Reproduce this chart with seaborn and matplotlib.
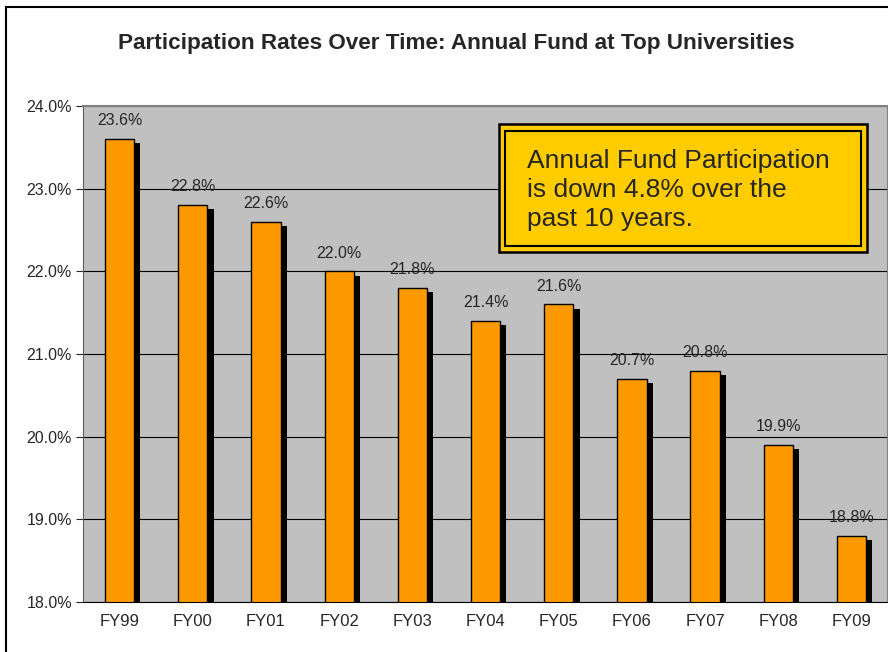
import pandas as pd
import seaborn as sns
import matplotlib.pyplot as plt
import matplotlib.patheffects as pe
from matplotlib.patches import Rectangle
from matplotlib.ticker import MultipleLocator, PercentFormatter

years = ['FY99', 'FY00', 'FY01', 'FY02', 'FY03', 'FY04', 'FY05', 'FY06', 'FY07', 'FY08', 'FY09']
rates = [23.6, 22.8, 22.6, 22.0, 21.8, 21.4, 21.6, 20.7, 20.8, 19.9, 18.8]
labels = ['23.6%', '22.8%', '22.6%', '22.0%', '21.8%', '21.4%', '21.6%', '20.7%', '20.8%', '19.9%', '18.8%']

df = pd.DataFrame({'Year': years, 'Rate': rates})

sns.set_style('white')
plt.rcParams['font.family'] = ['Liberation Sans', 'DejaVu Sans']

fig = plt.figure(figsize=(8.88, 6.52), dpi=100)
ax = fig.add_axes([83/888, 1 - 602/652, 805/888, 496/652])
ax.set_facecolor('#c0c0c0')

sns.barplot(data=df, x='Year', y='Rate', color='#ff9900', width=0.4,
            saturation=1, edgecolor='black', linewidth=1, ax=ax)
for p in ax.patches:
    p.set_path_effects([pe.SimplePatchShadow(offset=(4.5, -3), shadow_rgbFace='black', alpha=1),
                        pe.Normal()])

ax.set_ylim(18, 24)
ax.set_xlim(-0.5, len(years) - 0.5)
ax.yaxis.set_major_locator(MultipleLocator(1))
ax.yaxis.set_major_formatter(PercentFormatter(decimals=1))
ax.grid(axis='y', color='black', linewidth=0.8)
ax.set_axisbelow(True)

ax.set_xticks([i - 0.5 for i in range(len(years) + 1)], minor=False)
ax.set_xticklabels([])
ax.set_xticks(range(len(years)), minor=True)
ax.set_xticklabels(years, minor=True)
ax.tick_params(axis='x', which='major', length=5, width=0.8, color='black', direction='out')
ax.tick_params(axis='x', which='minor', length=0, pad=9, labelsize=12)
ax.tick_params(axis='y', length=5, width=0.8, direction='out', left=True, labelsize=11.5, pad=3)
ax.set_xlabel('')
ax.set_ylabel('')

for s in ['top', 'right']:
    ax.spines[s].set_color('#808080')
    ax.spines[s].set_linewidth(1.5)
ax.spines['left'].set_color('#606060')
ax.spines['bottom'].set_color('black')

for i, (v, t) in enumerate(zip(rates, labels)):
    ax.text(i, v + 0.13, t, ha='center', va='bottom', fontsize=11.5)

fig.text(456/888, 1 - 44/652, 'Participation Rates Over Time: Annual Fund at Top Universities',
         ha='center', va='center', fontsize=16.2, fontweight='bold')

# annotation box with double border
fig.patches.append(Rectangle((499/888, 1 - 252/652), 368/888, 128/652, transform=fig.transFigure,
                             facecolor='#ffcc00', edgecolor='black', linewidth=1.8, zorder=5))
fig.patches.append(Rectangle((505/888, 1 - 246/652), 356/888, 115/652, transform=fig.transFigure,
                             facecolor='none', edgecolor='black', linewidth=1.5, zorder=6))
fig.text(527/888, 1 - 190/652, 'Annual Fund Participation\nis down 4.8% over the\npast 10 years.',
         ha='left', va='center', fontsize=19, linespacing=1.25, zorder=7)

# outer chart border
fig.patches.append(Rectangle((6/888, -0.05), 1.0, 1.05 - 7/652, transform=fig.transFigure,
                             facecolor='none', edgecolor='black', linewidth=1.5, zorder=0))

fig.savefig('out.png', dpi=100)
